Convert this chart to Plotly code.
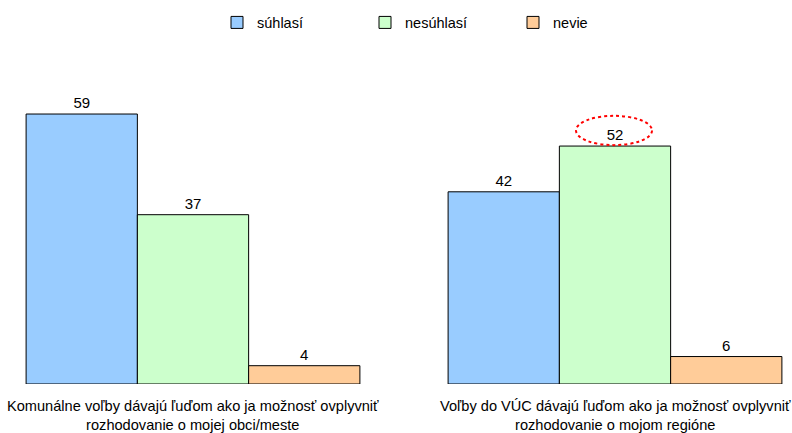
import plotly.graph_objects as go

categories = [
    "Komunálne voľby dávajú ľuďom ako ja možnosť ovplyvniť<br>rozhodovanie o mojej obci/meste",
    "Voľby do VÚC dávajú ľuďom ako ja možnosť ovplyvniť<br>rozhodovanie o mojom regióne",
]
series_names = ["súhlasí", "nesúhlasí", "nevie"]
suhlasi = [59, 42]
nesuhlasi = [37, 52]
nevie = [4, 6]
colors = ["#99CCFF", "#CCFFCC", "#FFCC99"]

font = "Liberation Sans, Arial, sans-serif"
xs = [0, 1]
fig = go.Figure()
for name, vals, col in zip(series_names, [suhlasi, nesuhlasi, nevie], colors):
    fig.add_trace(go.Bar(
        x=xs, y=vals, name=name,
        marker=dict(color=col, line=dict(color="black", width=1)),
        text=[str(v) for v in vals], textposition="outside",
        textfont=dict(size=15, color="black", family=font),
        cliponaxis=False,
    ))

# highlight ellipse around VÚC "nesúhlasí" value
hv = nesuhlasi[1]
fig.add_shape(type="circle", xref="x", yref="y",
              x0=0.9076, x1=1.0877, y0=hv + 0.2, y1=hv + 6.6,
              line=dict(color="red", width=2, dash="dot"))

# category labels below the groups
for x, lab in zip(xs, categories):
    fig.add_annotation(x=x, xref="x", y=-12 / 324, yref="paper", yanchor="top",
                       text=lab, showarrow=False, align="center",
                       font=dict(size=14.6, color="black", family=font))

fig.update_layout(
    width=792, height=433,
    margin=dict(l=0, r=0, t=60, b=49),
    paper_bgcolor="white", plot_bgcolor="white",
    barmode="group", bargap=0.209, bargroupgap=0,
    font=dict(family=font, size=14, color="black"),
    showlegend=True,
    legend=dict(orientation="h", x=217 / 792, xanchor="left", y=0.985, yanchor="top",
                yref="container", entrywidth=103, entrywidthmode="pixels",
                font=dict(size=14.5), itemwidth=30),
    xaxis=dict(range=[-193 / 422, 599 / 422], tickvals=xs, showticklabels=False,
               showgrid=False, zeroline=False, showline=False, ticks="",
               automargin=False),
    yaxis=dict(range=[0, 324 / 4.576], visible=False, showgrid=False, automargin=False),
)
fig.write_html("out.html", config={"displayModeBar": False},
               post_script="document.body.style.margin='0';")
